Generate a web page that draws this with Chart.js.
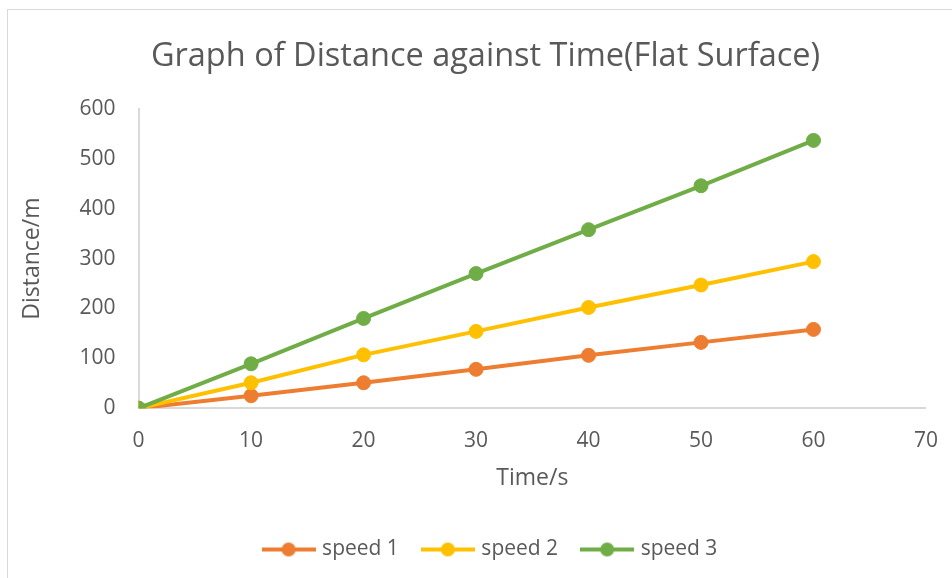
<!DOCTYPE html>
<html>
<head>
<meta charset="utf-8">
<script src="https://cdn.jsdelivr.net/npm/chart.js@4.4.0/dist/chart.umd.min.js"></script>
<style>
  html, body { margin: 0; padding: 0; background: #fff; overflow: hidden; }
  #frame { position: absolute; left: 7px; top: 9px; width: 960px; height: 590px; border: 1px solid #d9d9d9; box-sizing: border-box; }
  #wrap { position: absolute; left: 0; top: 0; width: 952px; height: 578px; }
</style>
</head>
<body>
<div id="frame"></div>
<div id="wrap"><canvas id="distanceChart"></canvas></div>
<script>
// Time values (s) and distances (m)
const times = [0, 10, 20, 30, 40, 50, 60];
const speed1 = [0, 25, 51, 78, 106, 132, 158];
const speed2 = [0, 51, 107, 154, 202, 247, 294];
const speed3 = [0, 89, 180, 270, 358, 446, 537];
const seriesNames = ['speed 1', 'speed 2', 'speed 3'];
const seriesColors = ['#ED7D31', '#FFC000', '#70AD47'];

const textColor = '#595959';
const fontFamily = "'Open Sans', 'Noto Sans', sans-serif";

// legend icon like Excel: short line with a dot in the middle
function legendIcon(color) {
    const c = document.createElement('canvas');
    c.width = 54;
    c.height = 16;
    const g = c.getContext('2d');
    g.strokeStyle = color;
    g.lineWidth = 4;
    g.beginPath();
    g.moveTo(0, 8);
    g.lineTo(54, 8);
    g.stroke();
    g.fillStyle = color;
    g.beginPath();
    g.arc(27, 8, 7, 0, Math.PI * 2);
    g.fill();
    return c;
}

// Excel centres title and legend on the whole frame, a bit right of the plot centre
const blockShift = {
    id: 'blockShift',
    afterLayout(chart) {
        chart.legend.left += 21;
        chart.legend.right += 21;
        chart.titleBlock.left += 15;
        chart.titleBlock.right += 15;
    }
};

const allSeries = [speed1, speed2, speed3];
const datasets = allSeries.map((values, i) => ({
    label: seriesNames[i],
    data: times.map((t, j) => ({ x: t, y: values[j] })),
    borderColor: seriesColors[i],
    backgroundColor: seriesColors[i],
    borderWidth: 4,
    pointRadius: 7,
    pointHoverRadius: 7,
    pointBorderWidth: 1,
    showLine: true,
    pointStyle: 'circle',
    order: allSeries.length - i   // last series drawn on top, as in Excel
}));

const ctx = document.getElementById('distanceChart').getContext('2d');
new Chart(ctx, {
    type: 'scatter',
    data: { datasets: datasets },
    plugins: [blockShift],
    options: {
        responsive: true,
        maintainAspectRatio: false,
        animation: false,
        layout: { padding: { left: 15, right: 26, top: 37, bottom: 8 } },
        plugins: {
            title: {
                display: true,
                text: 'Graph of Distance against Time(Flat Surface)',
                color: textColor,
                font: { family: fontFamily, size: 32.5, weight: 'normal' },
                padding: { top: 0, bottom: 33 }
            },
            legend: {
                position: 'bottom',
                labels: {
                    color: textColor,
                    font: { family: fontFamily, size: 21 },
                    usePointStyle: true,
                    pointStyleWidth: 46,
                    padding: 26,
                    sort: (a, b) => a.datasetIndex - b.datasetIndex,
                    generateLabels: (chart) => chart.data.datasets.map((ds, i) => ({
                        text: ds.label,
                        pointStyle: legendIcon(seriesColors[i]),
                        fontColor: textColor,
                        datasetIndex: i,
                        lineWidth: 0,
                        strokeStyle: 'transparent',
                        fillStyle: seriesColors[i]
                    }))
                }
            },
            tooltip: { enabled: false }
        },
        scales: {
            x: {
                type: 'linear',
                min: 0,
                max: 70,
                ticks: { stepSize: 10, color: textColor, font: { family: fontFamily, size: 21 }, padding: 14 },
                // invisible tick marks push the labels down without widening the right margin
                grid: { drawOnChartArea: false, drawTicks: true, tickLength: 6, tickColor: 'transparent' },
                border: { color: '#d9d9d9', width: 2 },
                title: { display: true, text: 'Time/s', color: textColor, font: { family: fontFamily, size: 23 }, padding: { top: -3, bottom: 21 } }
            },
            y: {
                min: 0,
                max: 600,
                ticks: { stepSize: 100, color: textColor, font: { family: fontFamily, size: 21 }, padding: 23 },
                grid: { drawOnChartArea: false, drawTicks: false },
                border: { color: '#d9d9d9', width: 2 },
                title: { display: true, text: 'Distance/m', color: textColor, font: { family: fontFamily, size: 23 }, padding: { bottom: 10 } }
            }
        }
    }
});
</script>
</body>
</html>
